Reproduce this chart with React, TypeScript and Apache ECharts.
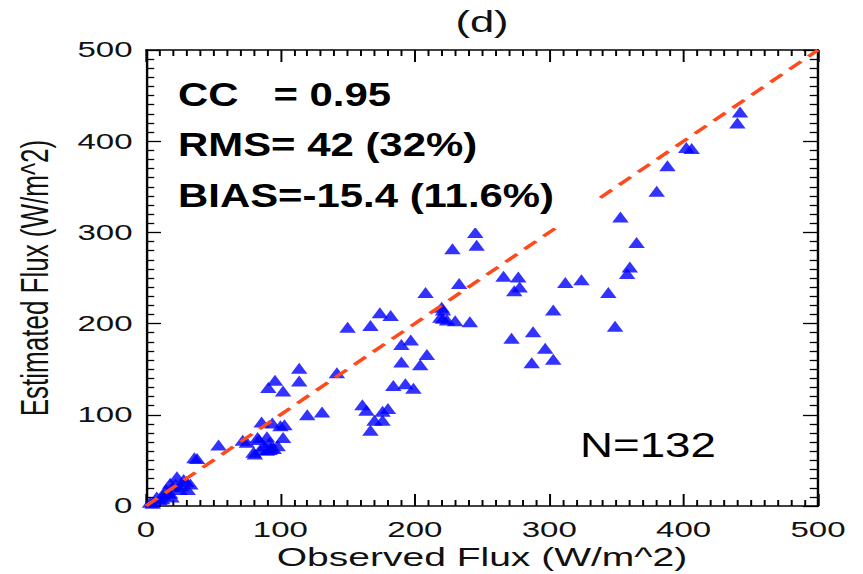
import React, { useEffect, useRef } from "react";
import * as echarts from "echarts";

// Observed vs estimated flux (W/m^2)
const obsFlux = [
  442, 440, 402, 406, 388, 380, 353, 365, 360, 358,
  324, 312, 344, 303, 349, 288, 272, 297, 303, 287,
  245, 246, 228, 233, 266, 277, 278, 274, 221, 224,
  230, 241, 221, 208, 220, 219, 174, 182, 167, 150,
  114, 114, 96, 91, 102, 142, 120, 131, 86, 94,
  103, 83, 90, 92, 102, 80, 90, 92, 81, 75,
  72, 54, 36, 23, 28, 18, 20, 25, 31, 16,
  3, 10, 19, 13, 18, 190, 197, 190, 193, 199,
  184, 161, 164, 170, 176, 176, 167, 204, 209, 180,
  38, 5, 8, 12, 15, 22, 26, 30, 33, 85,
  88, 95, 98, 100, 84, 93
];
const estFlux = [
  432, 420, 393, 392, 373, 345, 317, 289, 262, 255,
  248, 245, 234, 215, 197, 191, 184, 173, 161, 157,
  300, 286, 282, 244, 252, 251, 240, 236, 215, 204,
  203, 202, 206, 234, 218, 207, 212, 209, 198, 196,
  151, 137, 138, 130, 126, 146, 100, 103, 92, 91,
  89, 75, 76, 70, 75, 59, 61, 62, 57, 70,
  72, 67, 53, 32, 29, 25, 21, 18, 18, 15,
  4, 7, 10, 12, 14, 177, 182, 158, 134, 129,
  132, 111, 105, 94, 104, 94, 83, 155, 166, 107,
  52, 3, 10, 8, 18, 24, 22, 27, 24, 62,
  66, 63, 66, 88, 73, 64
];
const refLine = [0, 500];

const W = 575;
const H = 574;
const SX = 863 / W; // horizontal stretch of the reference picture
const FONT = '"Liberation Sans", Arial, Helvetica, sans-serif';

export default function App() {
  const ref = useRef<HTMLDivElement>(null);

  useEffect(() => {
    if (!ref.current) return;
    const chart = echarts.init(ref.current, null, { renderer: "svg" });
    const data = obsFlux.map((x, i) => [x, estFlux[i]]);
    const tickLine = { color: "#000", width: 1.3 };
    const axisLine = { show: true, onZero: false, lineStyle: { color: "#000", width: 1.6 } };
    const labelStyle = { fontSize: 22, color: "#111", fontFamily: FONT };
    const common = {
      type: "value" as const,
      min: 0,
      max: 500,
      interval: 100,
      splitLine: { show: false },
      minorSplitLine: { show: false },
      axisLine,
    };
    const xTick = { inside: true, length: 12, lineStyle: tickLine };
    const xMinor = { show: true, splitNumber: 10, length: 6, lineStyle: tickLine };
    const yTick = { inside: true, length: 10, lineStyle: tickLine };
    const yMinor = { show: true, splitNumber: 10, length: 5.5, lineStyle: tickLine };

    chart.setOption({
      animation: false,
      backgroundColor: "#fff",
      grid: {
        left: 146 / SX,
        right: W - 818 / SX,
        top: 50,
        bottom: 68,
        containLabel: false,
        outerBoundsMode: "none",
      },
      xAxis: [
        {
          ...common,
          position: "bottom",
          axisTick: xTick,
          minorTick: xMinor,
          axisLabel: { ...labelStyle, margin: 13 },
          name: "Observed Flux (W/m^2)",
          nameLocation: "middle",
          nameGap: 38,
          nameMoveOverlap: false,
          nameTextStyle: { fontSize: 26, color: "#111", fontFamily: FONT },
        },
        {
          ...common,
          position: "top",
          axisTick: xTick,
          minorTick: xMinor,
          axisLabel: { show: false },
        },
      ],
      yAxis: [
        {
          ...common,
          position: "left",
          axisTick: yTick,
          minorTick: yMinor,
          axisLabel: { ...labelStyle, margin: 9 },
          name: "Estimated Flux (W/m^2)",
          nameLocation: "middle",
          nameGap: 61,
          nameMoveOverlap: false,
          nameTextStyle: { fontSize: 26, color: "#111", fontFamily: FONT },
        },
        {
          ...common,
          position: "right",
          axisTick: yTick,
          minorTick: yMinor,
          axisLabel: { show: false },
        },
      ],
      series: [
        {
          type: "scatter",
          xAxisIndex: 0,
          yAxisIndex: 0,
          symbol: "triangle",
          symbolSize: [11, 11],
          itemStyle: { color: "#0000ff" },
          data,
          z: 2,
        },
        {
          type: "line",
          xAxisIndex: 0,
          yAxisIndex: 0,
          data: refLine.map((v) => [v, v]),
          symbol: "none",
          lineStyle: { color: "#ff4a1c", width: 3, type: [11, 7] },
          z: 3,
        },
      ],
      graphic: [
        {
          type: "text",
          x: 482 / SX,
          y: 22,
          style: {
            text: "(d)",
            font: `29px ${FONT}`,
            fill: "#111",
            align: "center",
            verticalAlign: "middle",
          },
        },
        {
          type: "rect",
          x: 165 / SX,
          y: 68,
          shape: { x: 0, y: 0, width: (597 - 165) / SX, height: 160 },
          style: { fill: "#fff" },
          z: 100,
        },
        ...[
          { t: "CC   = 0.95", y: 95 },
          { t: "RMS= 42 (32%)", y: 145 },
          { t: "BIAS=-15.4 (11.6%)", y: 196 },
        ].map((d) => ({
          type: "text",
          x: 178 / SX,
          y: d.y,
          scaleX: 1.27 / SX,
          z: 101,
          style: {
            text: d.t,
            font: `bold 33px ${FONT}`,
            fill: "#000",
            align: "left",
            verticalAlign: "middle",
          },
        })),
        {
          type: "text",
          x: 580 / SX,
          y: 445,
          scaleX: 1.27 / SX,
          z: 101,
          style: {
            text: "N=132",
            font: `36px ${FONT}`,
            fill: "#000",
            align: "left",
            verticalAlign: "middle",
          },
        },
      ],
    });
    return () => chart.dispose();
  }, []);

  return (
    <div style={{ position: "absolute", left: 0, top: 0, width: 863, height: 574, overflow: "hidden", background: "#fff" }}>
      <div
        ref={ref}
        style={{ width: W, height: H, transform: `scaleX(${SX})`, transformOrigin: "0 0" }}
      />
    </div>
  );
}
